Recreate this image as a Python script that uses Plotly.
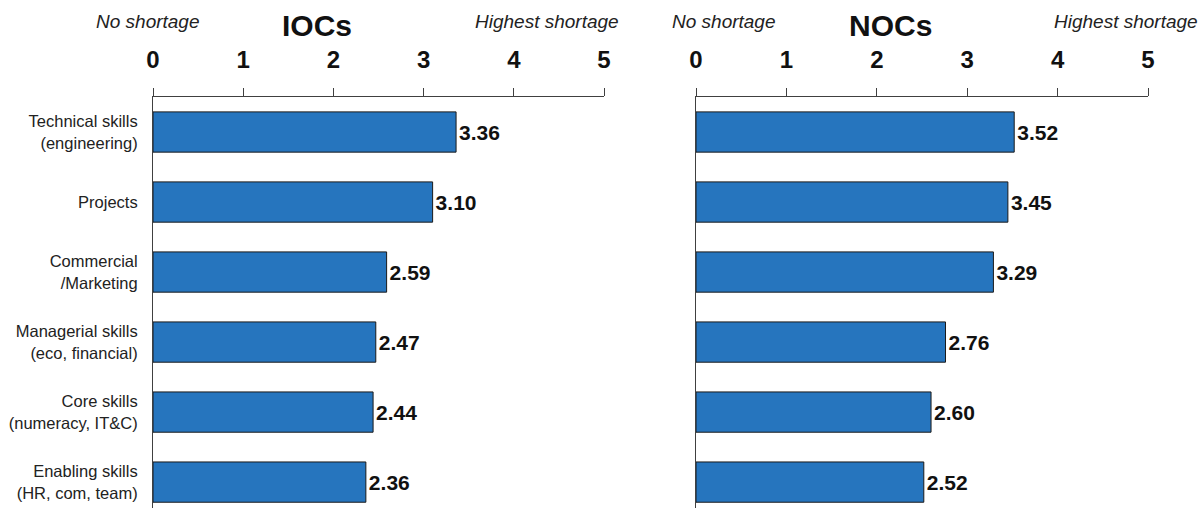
import plotly.graph_objects as go

categories = ["Technical skills<br>(engineering)", "Projects", "Commercial<br>/Marketing",
              "Managerial skills<br>(eco, financial)", "Core skills<br>(numeracy, IT&C)",
              "Enabling skills<br>(HR, com, team)"]
ioc_values = [3.36, 3.10, 2.59, 2.47, 2.44, 2.36]
noc_values = [3.52, 3.45, 3.29, 2.76, 2.60, 2.52]
tick_vals = [0, 1, 2, 3, 4, 5]
panel_titles = ["IOCs", "NOCs"]

BAR_COLOR = "#2675BE"
FONT = "Liberation Sans, Arial, sans-serif"
NARROW = "Liberation Sans Narrow, Arial Narrow, Liberation Sans, Arial, sans-serif"

fig = go.Figure()
for vals, xa, ya in [(ioc_values, "x", "y"), (noc_values, "x2", "y2")]:
    fig.add_trace(go.Bar(
        x=vals, y=categories, orientation="h", xaxis=xa, yaxis=ya,
        marker=dict(color=BAR_COLOR, line=dict(color="#1a1a1a", width=1)),
        width=0.575,
        text=[f"{v:.2f}" for v in vals], textposition="outside",
        textfont=dict(family=NARROW, size=21, color="#111", weight="bold"),
        constraintext="none", cliponaxis=False, showlegend=False,
    ))

H_TOP = 97
H = 508
PH = H - H_TOP

def py(p):
    return (H - p) / PH

xcommon = dict(range=[0, 5], side="top", tickvals=tick_vals, ticks="outside", ticklen=8,
               tickcolor="#404040", tickwidth=1, showline=True, linecolor="#404040",
               linewidth=1, showgrid=False, zeroline=False, ticklabelstandoff=10,
               automargin=False,
               tickfont=dict(family=NARROW, size=24, color="#111", weight="bold"))
ycommon = dict(range=[5.37, -0.5], categoryorder="array", categoryarray=categories,
               showline=True, linecolor="#404040", linewidth=1, showgrid=False,
               ticks="", zeroline=False, automargin=False)

fig.update_layout(
    width=1203, height=508, margin=dict(l=0, r=0, t=H_TOP, b=0, autoexpand=False),
    paper_bgcolor="white", plot_bgcolor="white", bargap=0.4,
    font=dict(family=FONT, color="#222"),
    xaxis=dict(domain=[153/1203, 604/1203], anchor="y", **xcommon),
    xaxis2=dict(domain=[696/1203, 1148/1203], anchor="y2", **xcommon),
    yaxis=dict(domain=[0, 1], anchor="x", ticklabelstandoff=11,
               tickfont=dict(family=FONT, size=16.5, color="#222"), **ycommon),
    yaxis2=dict(domain=[0, 1], anchor="x2", showticklabels=False, **ycommon),
)

title_x = [317, 890]
no_x = [148, 724]
high_x = [547, 1126]
for i, title in enumerate(panel_titles):
    fig.add_annotation(text=f"<b>{title}</b>", x=title_x[i]/1203, y=py(25), xref="paper", yref="paper",
                       showarrow=False, font=dict(family=FONT, size=30, color="#111"),
                       xanchor="center", yanchor="middle")
    fig.add_annotation(text="<i>No shortage</i>", x=no_x[i]/1203, y=py(22), xref="paper", yref="paper",
                       showarrow=False, font=dict(family=FONT, size=19, color="#222"),
                       xanchor="center", yanchor="middle")
    fig.add_annotation(text="<i>Highest shortage</i>", x=high_x[i]/1203, y=py(22), xref="paper", yref="paper",
                       showarrow=False, font=dict(family=FONT, size=19, color="#222"),
                       xanchor="center", yanchor="middle")

fig.write_html("out.html")
